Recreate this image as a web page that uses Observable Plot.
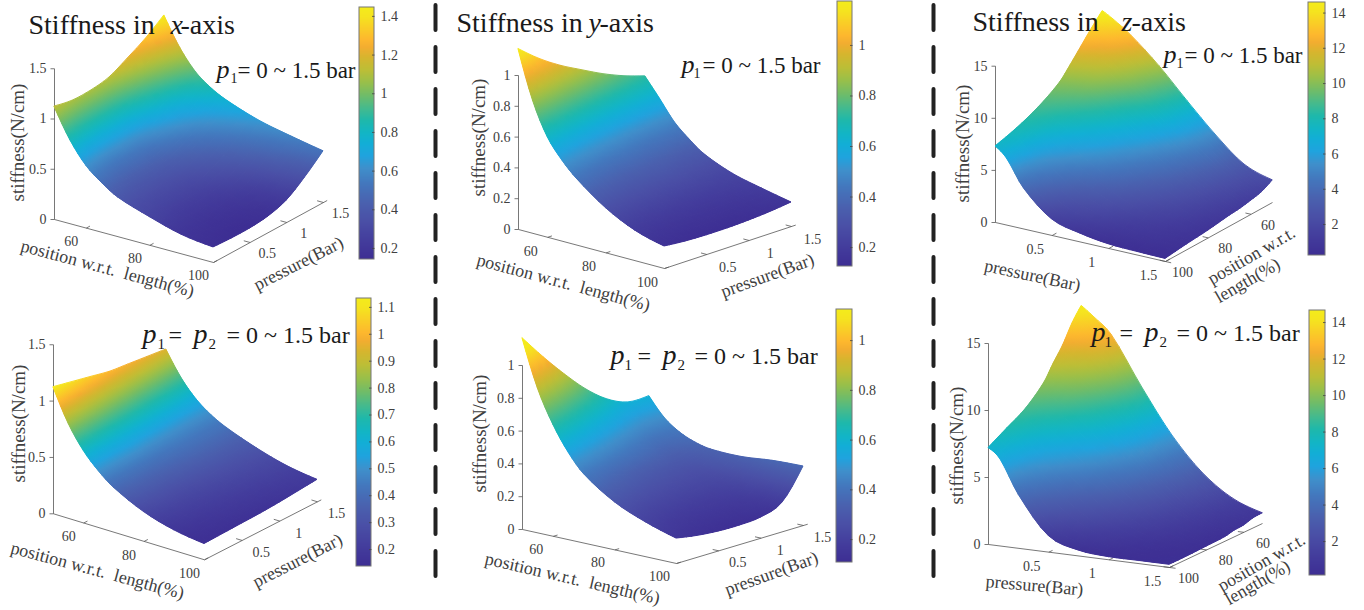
<!doctype html>
<html>
<head>
<meta charset="utf-8">
<style>html,body{margin:0;padding:0;background:#fff}svg{display:block}</style>
<script src="https://cdn.jsdelivr.net/npm/d3@7"></script>
<script src="https://cdn.jsdelivr.net/npm/@observablehq/plot@0.6"></script>
</head>
<body>
<div id="chart"></div>
<script>
// ---------- values ----------
const positions = [50, 55, 60, 65, 70, 80, 90, 100];
const pressures = [0, 0.25, 0.5, 0.75, 1, 1.25, 1.5];
const pressuresFine = [0, 0.1, 0.25, 0.5, 0.75, 1, 1.25, 1.5];
const stiffnessXSingle = [
  [1.12, .83, .62, .49, .39, .28, .19, .15],
  [1.08, .80, .59, .46, .37, .26, .18, .14],
  [1.08, .80, .59, .46, .37, .26, .18, .14],
  [1.11, .82, .61, .48, .39, .28, .20, .16],
  [1.20, .91, .70, .56, .46, .35, .26, .22],
  [1.30, 1.02, .79, .67, .58, .47, .40, .35],
  [1.43, 1.15, .95, .83, .75, .64, .57, .51]];
const stiffnessXBoth = [
  [1.12, .84, .64, .50, .395, .26, .18, .14],
  [1.08, .82, .63, .50, .40, .27, .19, .145],
  [1.04, .80, .62, .50, .40, .275, .20, .15],
  [1.00, .78, .61, .49, .405, .285, .21, .155],
  [.98, .76, .60, .485, .41, .295, .22, .165],
  [.96, .745, .59, .48, .41, .30, .23, .18],
  [.94, .73, .58, .48, .41, .31, .235, .195]];
const stiffnessYSingle = [
  [1.17, .86, .65, .524, .43, .29, .195, .143],
  [1.06, .80, .61, .49, .40, .27, .18, .13],
  [.97, .74, .57, .46, .375, .26, .175, .125],
  [.896, .69, .54, .44, .36, .25, .17, .125],
  [.825, .65, .51, .415, .345, .245, .17, .13],
  [.766, .62, .49, .40, .33, .24, .18, .14],
  [.72, .60, .475, .39, .32, .24, .195, .156]];
const stiffnessYBoth = [
  [1.165, .88, .68, .53, .42, .29, .21, .152],
  [1.01, .78, .61, .48, .38, .26, .18, .13],
  [.867, .68, .54, .43, .34, .24, .165, .118],
  [.738, .60, .48, .39, .31, .225, .16, .116],
  [.638, .53, .43, .355, .29, .22, .165, .126],
  [.58, .48, .39, .33, .285, .235, .20, .177],
  [.58, .468, .40, .36, .339, .335, .353, .36]];
const stiffnessZSingle = [
  [14.6, 13.5, 12.3, 11.1, 10.0, 8.75, 7.9, 7.3],
  [14.0, 12.9, 11.8, 10.7, 9.7, 8.3, 7.3, 6.4],
  [12.9, 12.0, 11.1, 10.1, 9.1, 7.3, 5.5, 3.9],
  [10.56, 9.8, 9.1, 8.1, 7.3, 5.6, 3.4, 1.54],
  [7.8, 7.4, 6.9, 6.1, 5.4, 3.9, 2.3, .8],
  [5.18, 5.0, 4.6, 4.1, 3.6, 2.5, 1.4, .4],
  [3.0, 2.9, 2.7, 2.4, 2.1, 1.5, .9, .3],
  [2.1, 1.55, 1.3, 1.1, 1.0, .7, .5, .25]];
const stiffnessZBoth = [
  [14.5, 13.5, 12.2, 11.2, 10.1, 8.8, 8.0, 7.2],
  [13.8, 12.9, 11.7, 10.7, 9.7, 8.2, 7.2, 6.45],
  [12.6, 11.9, 10.9, 9.9, 9.0, 7.2, 5.5, 4.0],
  [9.0, 8.7, 8.2, 7.6, 6.9, 5.2, 3.2, 1.2],
  [5.7, 5.5, 5.3, 5.0, 4.5, 3.2, 1.7, .4],
  [3.2, 3.1, 2.9, 2.6, 2.3, 1.6, .8, .2],
  [1.57, 1.45, 1.3, 1.15, 1.0, .7, .35, .2],
  [.75, .7, .5, .45, .3, .25, .2, .2]];

const positionTicks = [60, 80, 100];
const pressureTicks = [0.5, 1, 1.5];
const stiffnessTicksCoarse = [0, 0.5, 1, 1.5];
const stiffnessTicksFine = [0, 0.2, 0.4, 0.6, 0.8, 1];
const stiffnessTicksLarge = [0, 5, 10, 15];
const barTicksX1 = [0.2, 0.4, 0.6, 0.8, 1, 1.2, 1.4];
const barTicksX2 = [0.2, 0.3, 0.4, 0.5, 0.6, 0.7, 0.8, 0.9, 1, 1.1];
const barTicksY = [0.2, 0.4, 0.6, 0.8, 1];
const barTicksZ = [2, 4, 6, 8, 10, 12, 14];

// parula-like colour ramp of the picture
const ramp = ["#3d2e93","#433c9c","#4a4fa6","#4a60ae","#4377bd","#3f8fcb","#1fa3de","#12aed6","#12b5c5","#1eb8ab","#46ba8c","#70bc68","#98bf4a","#bcbe36","#d6b52e","#f2ad30","#fdb72e","#f9cf26","#f5e31f","#f4ec1b"];
const rampStops = [0,.07,.15,.22,.3,.36,.41,.46,.5,.55,.6,.65,.7,.75,.8,.84,.87,.92,.96,1];

// ---------- layout of the six oblique views ----------
const panels = [
 {values: stiffnessXSingle, rows: pressures, o:[54,219], u:[159,43], v:[110,-60], c:100.5, posAt:0, zAt:50,
  zTicks: stiffnessTicksCoarse, barTicks: barTicksX1, domain:[.143,1.446], bar:[359,374,7,259],
  posOff:[-15,13], preOff:[17,11]},
 {values: stiffnessXBoth, rows: pressures, o:[53,513.3], u:[151,46], v:[113,-58], c:112.7, posAt:0, zAt:50,
  zTicks: stiffnessTicksCoarse, barTicks: barTicksX2, domain:[.137,1.133], bar:[356,371,298,566],
  posOff:[-15,14], preOff:[19,12]},
 {values: stiffnessYSingle, rows: pressures, o:[518,229], u:[146,39], v:[127,-42], c:154, posAt:0, zAt:50,
  zTicks: stiffnessTicksFine, barTicks: barTicksY, domain:[.125,1.174], bar:[837,852,1,266],
  posOff:[-17,14], preOff:[21,13]},
 {values: stiffnessYBoth, rows: pressures, o:[522,529], u:[154,34], v:[127,-38], c:164, posAt:0, zAt:50,
  zTicks: stiffnessTicksFine, barTicks: barTicksY, domain:[.108,1.125], bar:[836,852,309,562],
  posOff:[-17,13], preOff:[19,12]},
 {values: stiffnessZSingle, rows: pressuresFine, o:[1102,163], u:[-107,59], v:[170,39], c:10.42, posAt:1.5, zAt:100,
  zTicks: stiffnessTicksLarge, barTicks: barTicksZ, domain:[.24,14.6], bar:[1308,1325,2,255],
  posOff:[17,11], preOff:[-17,14]},
 {values: stiffnessZBoth, rows: pressuresFine, o:[1081,500], u:[-93,44], v:[181,23], c:13.4, posAt:1.5, zAt:100,
  zTicks: stiffnessTicksLarge, barTicks: barTicksZ, domain:[.14,14.66], bar:[1309,1325,310,575],
  posOff:[19,11], preOff:[-17,14]}
];

const axisTitles = [
 {text:"stiffness(N/cm)",x:17,y:142,rotate:-90,size:19},
 {text:"position w.r.t.  length(%)",x:107,y:268,rotate:15,size:18},
 {text:"pressure(Bar)",x:298,y:263,rotate:-27,size:18},
 {text:"stiffness(N/cm)",x:18,y:423,rotate:-90,size:19},
 {text:"position w.r.t.  length(%)",x:97,y:570,rotate:15,size:18},
 {text:"pressure(Bar)",x:297,y:560,rotate:-27,size:18},
 {text:"stiffness(N/cm)",x:478,y:137,rotate:-90,size:19},
 {text:"position w.r.t.  length(%)",x:563,y:282,rotate:15,size:18},
 {text:"pressure(Bar)",x:767,y:275,rotate:-20,size:18},
 {text:"stiffness(N/cm)",x:479,y:433,rotate:-90,size:19},
 {text:"position w.r.t.  length(%)",x:572,y:578,rotate:13,size:18},
 {text:"pressure(Bar)",x:771,y:573,rotate:-20,size:18},
 {text:"stiffness(N/cm)",x:962,y:143,rotate:-90,size:19},
 {text:"pressure(Bar)",x:1032,y:275,rotate:12,size:18},
 {text:"position w.r.t.",x:1251,y:255,rotate:-30,size:18},
 {text:"length(%)",x:1247,y:280,rotate:-30,size:18},
 {text:"stiffness(N/cm)",x:956,y:445,rotate:-90,size:19},
 {text:"pressure(Bar)",x:1034,y:585,rotate:5,size:18},
 {text:"position w.r.t.",x:1261,y:562,rotate:-30,size:18},
 {text:"length(%)",x:1257,y:582,rotate:-30,size:18}
];
const uprightTexts = [
 {text:"Stiffness in",x:28,y:33,size:28},{text:"-axis",x:180,y:33,size:28},
 {text:"Stiffness in",x:456,y:31,size:28},{text:"-axis",x:599,y:31,size:28},
 {text:"Stiffness in",x:972,y:30,size:28},{text:"-axis",x:1131,y:30,size:28},
 {text:"1",x:230,y:82,size:14},{text:"= 0 ~ 1.5 bar",x:237,y:77,size:23},
 {text:"1",x:693,y:77,size:14},{text:"= 0 ~ 1.5 bar",x:702,y:72,size:23},
 {text:"1",x:1176,y:67,size:14},{text:"= 0 ~ 1.5 bar",x:1184,y:62,size:23},
 {text:"1",x:157,y:348,size:15},{text:"=",x:168,y:342,size:24},{text:"2",x:208,y:348,size:15},{text:"= 0 ~ 1.5 bar",x:226,y:342,size:24},
 {text:"1",x:624,y:369,size:15},{text:"=",x:637,y:363,size:24},{text:"2",x:677,y:369,size:15},{text:"= 0 ~ 1.5 bar",x:694,y:363,size:24},
 {text:"1",x:1104,y:346,size:15},{text:"=",x:1119,y:340,size:24},{text:"2",x:1159,y:346,size:15},{text:"= 0 ~ 1.5 bar",x:1176,y:340,size:24}
];
const italicTexts = [
 {text:"x",x:170,y:33,size:28},{text:"y",x:588,y:31,size:28},{text:"z",x:1121,y:30,size:28},
 {text:"p",x:216,y:77,size:26},{text:"p",x:681,y:72,size:26},{text:"p",x:1163,y:62,size:26},
 {text:"p",x:142,y:342,size:28},{text:"p",x:193,y:342,size:28},
 {text:"p",x:610,y:363,size:28},{text:"p",x:662,y:363,size:28},
 {text:"p",x:1091,y:340,size:28},{text:"p",x:1144,y:340,size:28}
];

// ---------- build the marks' tables ----------
const rampColor = Plot.scale({color:{type:"linear",domain:rampStops,range:ramp,interpolate:"rgb",clamp:true}});
const project = (p,pos,pre,z=0)=>{
  const a=(pos-50)/50,b=pre/1.5;
  return [p.o[0]+p.u[0]*a+p.v[0]*b, p.o[1]+p.u[1]*a+p.v[1]*b-p.c*z];
};
// Smooth drawing curve through the read values (the same idea as a line mark's
// curve option): each read cell is drawn as a few small facets along a cubic.
const SUB = 4;
const refineAxis = xs => xs.flatMap((x,i)=> i===xs.length-1 ? [x] : d3.range(SUB).map(k=>x+(xs[i+1]-x)*k/SUB));
const cubicThrough = (xs,ys,q)=>{
  const n=xs.length, s=d3.range(n-1).map(i=>(ys[i+1]-ys[i])/(xs[i+1]-xs[i]));
  const m=d3.range(n).map(i=> (i>0&&i<n-1) ? (ys[i+1]-ys[i-1])/(xs[i+1]-xs[i-1]) : null);
  m[0]=(3*s[0]-m[1])/2; m[n-1]=(3*s[n-2]-m[n-2])/2;
  let i=Math.min(d3.bisectRight(xs,q)-1,n-2);
  const h=xs[i+1]-xs[i],t=(q-xs[i])/h,t2=t*t,t3=t2*t;
  return (2*t3-3*t2+1)*ys[i]+(t3-2*t2+t)*h*m[i]+(-2*t3+3*t2)*ys[i+1]+(t3-t2)*h*m[i+1];
};
const fp = refineAxis(positions);
const cells=[], gradients=[], floorLines=[], ticks=[], tickTexts=[], zTexts=[], barCells=[], barLabels=[], barTickMarks=[], barFrames=[];
panels.forEach((p,pi)=>{
  const norm=v=>(v-p.domain[0])/(p.domain[1]-p.domain[0]);
  const fr=refineAxis(p.rows);
  const along=p.values.map(row=>fp.map(q=>cubicThrough(positions,row,q)));
  const grid=fr.map(q=>fp.map((_,j)=>cubicThrough(p.rows,along.map(r=>r[j]),q)));
  fr.forEach((pre,r)=>{
    if(r===fr.length-1) return;
    fp.forEach((pos,c)=>{
      if(c===fp.length-1) return;
      const corners=[[r,c],[r,c+1],[r+1,c+1],[r+1,c]].map(([i,j])=>{
        const z=grid[i][j];
        const [x,y]=project(p,fp[j],fr[i],z);
        return {x,y,z};
      });
      const id=`g${pi}_${r}_${c}`;
      const mx=d3.mean(corners,d=>d.x),my=d3.mean(corners,d=>d.y),mz=d3.mean(corners,d=>d.z);
      let sxx=0,sxy=0,syy=0,sxz=0,syz=0;
      corners.forEach(d=>{const X=d.x-mx,Y=d.y-my,Z=d.z-mz;sxx+=X*X;sxy+=X*Y;syy+=Y*Y;sxz+=X*Z;syz+=Y*Z;});
      const det=sxx*syy-sxy*sxy;
      const ga=det?(sxz*syy-syz*sxy)/det:0, gb=det?(syz*sxx-sxz*sxy)/det:0, n=ga*ga+gb*gb;
      const lo=d3.min(corners,d=>d.z),hi=d3.max(corners,d=>d.z);
      let paint;
      if(n<1e-12||hi-lo<1e-9){paint=rampColor.apply(norm(mz));}
      else{
        paint=`url(#${id})`;
        gradients.push({id,
          x1:mx+(lo-mz)*ga/n,y1:my+(lo-mz)*gb/n,x2:mx+(hi-mz)*ga/n,y2:my+(hi-mz)*gb/n,
          stops:[0,.5,1].map(o=>({o,color:rampColor.apply(norm(lo+(hi-lo)*o))}))});
      }
      const key=`${pi}-${r}-${c}`;
      cells.push({key,paint,x1:corners[0].x,y1:corners[0].y,x2:corners[3].x,y2:corners[3].y});
      cells.push({key,paint,x1:corners[1].x,y1:corners[1].y,x2:corners[2].x,y2:corners[2].y});
    });
  });
  // floor axes
  const seg=(a,b)=>({x1:a[0],y1:a[1],x2:b[0],y2:b[1]});
  floorLines.push(seg(project(p,50,p.posAt),project(p,100,p.posAt)));
  floorLines.push(seg(project(p,100,0),project(p,100,1.55)));
  const base=project(p,p.zAt,0), tipZ=p.zTicks[p.zTicks.length-1];
  floorLines.push(seg(base,project(p,p.zAt,0,tipZ)));
  const dirP=p.posAt===0?0.05:-0.05;
  positionTicks.forEach(t=>{
    const a=project(p,t,p.posAt);
    ticks.push(seg(a,project(p,t,p.posAt+dirP)));
    tickTexts.push({text:String(t),x:a[0]+p.posOff[0],y:a[1]+p.posOff[1]});
  });
  pressureTicks.forEach(t=>{
    const a=project(p,100,t);
    ticks.push(seg(a,project(p,98,t)));
    tickTexts.push({text:String(t),x:a[0]+p.preOff[0],y:a[1]+p.preOff[1]});
  });
  p.zTicks.forEach(t=>{
    const a=project(p,p.zAt,0,t);
    ticks.push({x1:a[0],y1:a[1],x2:a[0]-4,y2:a[1]});
    zTexts.push({text:String(t),x:a[0]-8,y:a[1]});
  });
  // colour bar
  const [bx1,bx2,by1,by2]=p.bar;
  const barY=v=>by1+(p.domain[1]-v)/(p.domain[1]-p.domain[0])*(by2-by1);
  d3.range(by1,by2).forEach(y=>{
    barCells.push({x1:bx1,x2:bx2,y1:y,y2:y+1,t:1-(y+.5-by1)/(by2-by1)});
  });
  barFrames.push({x1:bx1,x2:bx2,y1:by1,y2:by2});
  p.barTicks.forEach(t=>{
    barTickMarks.push({x1:bx2-2.5,x2:bx2,y1:barY(t),y2:barY(t)});
    barLabels.push({text:String(t),x:bx2+6,y:barY(t)});
  });
});

const ink="#404040", serif="Liberation Serif";
const svg = Plot.plot({
  width:1364,height:610,margin:0,
  style:{background:"#fff",fontFamily:serif},
  x:{domain:[0,1364],range:[0,1364],axis:null},
  y:{domain:[0,610],range:[0,610],axis:null},
  color:{type:"linear",domain:rampStops,range:ramp,interpolate:"rgb"},
  marks:[
    Plot.ruleX([435,933],{y1:5,y2:578,stroke:"#222",strokeWidth:4,strokeDasharray:"25 17",strokeLinecap:"round"}),
    Plot.link(floorLines,{x1:"x1",y1:"y1",x2:"x2",y2:"y2",stroke:"#555",strokeWidth:.8}),
    Plot.link(ticks,{x1:"x1",y1:"y1",x2:"x2",y2:"y2",stroke:"#555",strokeWidth:.8}),
    // first pass closes the hairline seams between cells, second pass paints them clean
    Plot.area(cells,{x1:"x1",y1:"y1",x2:"x2",y2:"y2",z:"key",
      fill:{value:"paint",scale:null},stroke:{value:"paint",scale:null},strokeWidth:1}),
    Plot.area(cells,{x1:"x1",y1:"y1",x2:"x2",y2:"y2",z:"key",
      fill:{value:"paint",scale:null}}),
    Plot.rect(barCells,{x1:"x1",x2:"x2",y1:"y1",y2:"y2",fill:"t",shapeRendering:"crispEdges"}),
    Plot.rect(barFrames,{x1:"x1",x2:"x2",y1:"y1",y2:"y2",fill:"none",stroke:"#777",strokeWidth:1}),
    Plot.link(barTickMarks,{x1:"x1",y1:"y1",x2:"x2",y2:"y2",stroke:"#444",strokeWidth:.8}),
    Plot.text(tickTexts,{x:"x",y:"y",text:"text",fill:ink,fontSize:14,fontFamily:serif}),
    Plot.text(zTexts,{x:"x",y:"y",text:"text",fill:ink,fontSize:14,fontFamily:serif,textAnchor:"end"}),
    Plot.text(barLabels,{x:"x",y:"y",text:"text",fill:ink,fontSize:14,fontFamily:serif,textAnchor:"start"}),
    Plot.text(axisTitles,{x:"x",y:"y",text:"text",rotate:"rotate",fontSize:d=>d.size,fill:ink,fontFamily:serif}),
    Plot.text(uprightTexts,{x:"x",y:"y",text:"text",fontSize:d=>d.size,fill:"#1a1a1a",fontFamily:serif,textAnchor:"start",lineAnchor:"bottom"}),
    Plot.text(italicTexts,{x:"x",y:"y",text:"text",fontSize:d=>d.size,fill:"#1a1a1a",fontFamily:serif,fontStyle:"italic",textAnchor:"start",lineAnchor:"bottom"})
  ]
});

// linear gradients that let each surface cell run between its corner colours
const defs=d3.select(svg).insert("defs",":first-child");
const grad=defs.selectAll("linearGradient").data(gradients).join("linearGradient")
  .attr("id",d=>d.id).attr("gradientUnits","userSpaceOnUse")
  .attr("x1",d=>d.x1).attr("y1",d=>d.y1).attr("x2",d=>d.x2).attr("y2",d=>d.y2);
grad.selectAll("stop").data(d=>d.stops).join("stop")
  .attr("offset",d=>d.o).attr("stop-color",d=>d.color);
document.getElementById("chart").append(svg);
</script>
</body>
</html>
